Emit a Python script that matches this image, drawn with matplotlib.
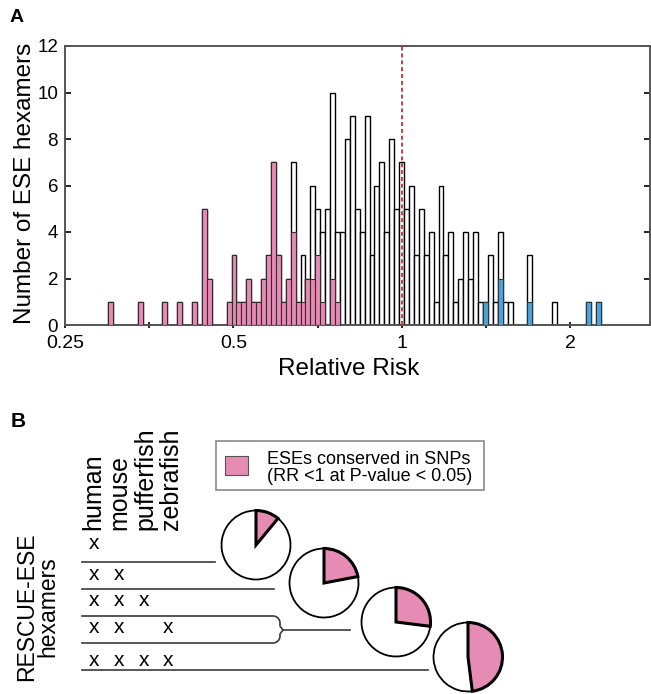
import numpy as np
import matplotlib
matplotlib.use("Agg")
import matplotlib.pyplot as plt
from matplotlib.patches import Rectangle
from matplotlib.ticker import FixedLocator, FixedFormatter, NullFormatter

plt.rcParams['font.family'] = ['Liberation Sans', 'DejaVu Sans']

# ---------------- data ----------------
# histogram bins: equal width in log(RR)
first_bin_edge = 0.2987
log_bin_width = 0.02028
all_counts = [1, 0, 0, 0, 0, 0, 1, 0, 0, 0,
              0, 1, 0, 0, 1, 0, 0, 1, 0, 5,
              2, 0, 0, 0, 1, 3, 1, 1, 2, 1,
              1, 2, 3, 7, 3, 1, 2, 7, 1, 3,
              2, 6, 5, 4, 5, 10, 4, 4, 8, 9,
              5, 4, 9, 3, 6, 7, 4, 8, 5, 7,
              5, 6, 3, 5, 3, 4, 1, 6, 3, 4,
              1, 2, 4, 2, 4, 1, 1, 3, 1, 4,
              1, 1, 0, 0, 0, 3, 0, 0, 0, 0,
              1, 0, 0, 0, 0, 0, 0, 1, 0, 1]
pink_counts = all_counts[:37] + [4, 1, 1, 2, 2, 3, 1, 0, 2, 1] + [0] * 53
blue_counts = [0] * 100
for k, v in [(76, 1), (79, 2), (85, 1), (97, 1), (99, 1)]:
    blue_counts[k] = v

x_major = [0.25, 0.5, 1, 2]
x_major_labels = ['0.25', '0.5', '1', '2']
x_minor = [2 ** -1.5, 2 ** -0.5, 2 ** 0.5]
y_ticks = [0, 2, 4, 6, 8, 10, 12]

species = ['human', 'mouse', 'pufferfish', 'zebrafish']
presence = [[1, 0, 0, 0],
            [1, 1, 0, 0],
            [1, 1, 1, 0],
            [1, 1, 0, 1],
            [1, 1, 1, 1]]
pie_pink_fraction = [0.11, 0.22, 0.27, 0.48]

PINK = '#e68bb3'
BLUE = '#4fa3d9'

# ---------------- figure ----------------
W, H = 651, 694
fig = plt.figure(figsize=(W / 100, H / 100), dpi=100)


def fx(px):
    return px / W


def fy(py):
    return 1 - py / H


ax = fig.add_axes([fx(65), fy(325), (650 - 65) / W, (325 - 46) / H])
ax.set_zorder(2)

n = len(all_counts)
edges = first_bin_edge * np.exp(log_bin_width * np.arange(n + 1))
left = edges[:-1]
widths = np.diff(edges)

ax.bar(left, all_counts, width=widths, align='edge', color='white',
       edgecolor='black', linewidth=1.0, zorder=2)
ax.bar(left, pink_counts, width=widths, align='edge', color=PINK,
       edgecolor='#3a2a30', linewidth=0.8, zorder=3)
ax.bar(left, blue_counts, width=widths, align='edge', color=BLUE,
       edgecolor='#2a3a44', linewidth=0.8, zorder=3)

ax.axvline(1.0, color='#c0303a', lw=1.3, ls=(0, (2.2, 1.6)), zorder=4)

ax.set_xscale('log', base=2)
ax.set_xlim(0.25, 2.774)
ax.set_ylim(0, 12)
ax.xaxis.set_major_locator(FixedLocator(x_major))
ax.xaxis.set_major_formatter(FixedFormatter(x_major_labels))
ax.xaxis.set_minor_locator(FixedLocator(x_minor))
ax.xaxis.set_minor_formatter(NullFormatter())
ax.set_yticks(y_ticks)

for s in ax.spines.values():
    s.set_color('#555555')
    s.set_linewidth(1.4)

ax.tick_params(axis='x', which='both', direction='inout', length=5, width=1.2,
               top=False, labelsize=14, pad=4.5)
ax.tick_params(axis='y', direction='in', length=4, width=1.2, left=True,
               right=True, labelsize=13.5, pad=5)

ax.set_xlabel('Relative Risk', fontsize=17.5)
ax.xaxis.set_label_coords((349 - 65) / 585, (325 - 358) / 279)
ax.set_ylabel('Number of ESE hexamers', fontsize=17.5)
ax.yaxis.set_label_coords((36 - 65) / 585, (325 - 183) / 279)

fig.text(fx(10), fy(22), 'A', fontweight='bold', fontsize=14,
         ha='left', va='baseline')
fig.text(fx(11), fy(427), 'B', fontweight='bold', fontsize=15,
         ha='left', va='baseline')

# ---------------- panel B ----------------
ax2 = fig.add_axes([0, 0, 1, 1])
ax2.set_zorder(1)


def Y(py):
    return H - py


LC = '#3a3a3a'
LW = 1.2

# legend box
ax2.add_patch(Rectangle((216, Y(490)), 268, 49, fill=False,
                        edgecolor='#8a8a8a', lw=1.2))
ax2.add_patch(Rectangle((225, Y(475)), 23, 19, facecolor=PINK,
                        edgecolor='#555555', lw=0.8))
ax2.text(267, Y(468), 'ESEs conserved in SNPs\n(RR <1 at P-value < 0.05)',
         fontsize=13, ha='left', va='center', linespacing=0.95)

# species headers
header_baseline_x = [100, 126.5, 152, 178]
for name, bx in zip(species, header_baseline_x):
    ax2.text(bx, Y(530), name, rotation=90, rotation_mode='anchor',
             ha='left', va='baseline', fontsize=18)

# presence marks
col_x = [94, 119, 144, 168]
row_baseline = [549, 580, 606, 633, 666]
for r, row in enumerate(presence):
    for c, v in enumerate(row):
        if v:
            ax2.text(col_x[c], Y(row_baseline[r]), 'x', ha='center',
                     va='baseline', fontsize=15)

# separator lines
ax2.plot([82, 215], [Y(562), Y(562)], color=LC, lw=LW)
ax2.plot([82, 274], [Y(589), Y(589)], color=LC, lw=LW)
t = np.linspace(0, np.pi / 2, 12)
top_curve_x = 273 + 7 * np.sin(t)
top_curve_y = 616 + 7 * (1 - np.cos(t))
bx = np.concatenate([[82], top_curve_x, [280, 283, 280], top_curve_x[::-1], [82]])
by = np.concatenate([[616], top_curve_y, [626, 630, 634], (643 - (top_curve_y - 616))[::-1], [643]])
ax2.plot(bx, [Y(v) for v in by], color=LC, lw=LW)
ax2.plot([283, 350], [Y(630), Y(630)], color=LC, lw=LW)
ax2.plot([82, 428], [Y(670), Y(670)], color=LC, lw=LW)

# pies
pie_cx = [256, 324, 396, 468]
pie_cy = [545, 583, 622, 657]
for f, cx, cy in zip(pie_pink_fraction, pie_cx, pie_cy):
    wedges, _ = ax2.pie([f, 1 - f], colors=[PINK, 'white'], startangle=90,
                        counterclock=False, center=(cx, Y(cy)), radius=34.5,
                        frame=True,
                        wedgeprops=dict(edgecolor='black', linewidth=1.3))
    wedges[0].set_linewidth(2.2)
    wedges[0].set_zorder(3)

ax2.text(37, Y(607), 'RESCUE-ESE\nhexamers', rotation=90,
         ha='center', va='center', multialignment='center',
         fontsize=16.5, linespacing=0.92)

ax2.set_xlim(0, W)
ax2.set_ylim(0, H)
ax2.axis('off')

fig.savefig('out.png', dpi=100)
